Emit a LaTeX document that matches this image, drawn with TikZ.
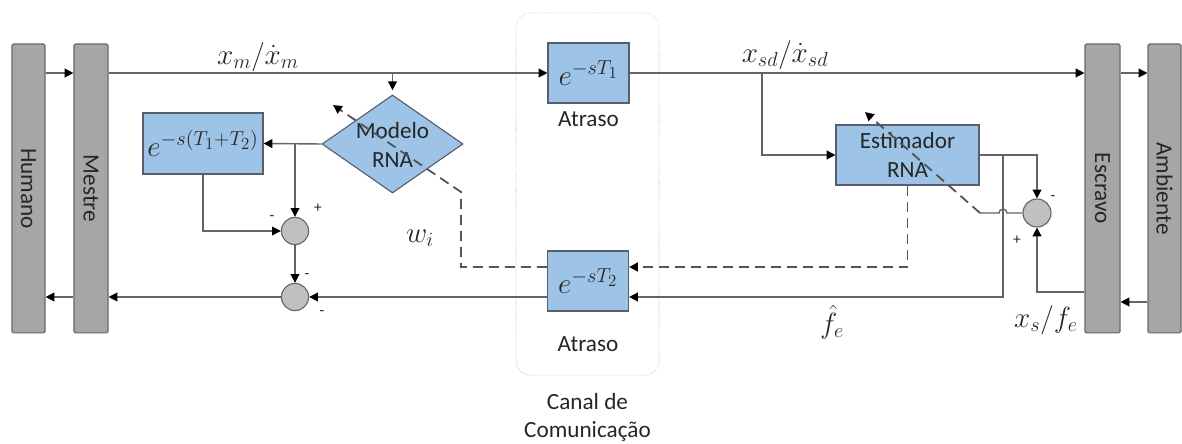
\documentclass[tikz,border=0pt]{standalone}
\usepackage{fontspec}
\setmainfont{Carlito}
\usetikzlibrary{shapes.geometric,arrows.meta,positioning,calc}
\definecolor{tcbar}{RGB}{166,166,166}
\definecolor{tcbarline}{RGB}{105,105,105}
\definecolor{tcblock}{RGB}{157,195,230}
\definecolor{tcblockline}{RGB}{85,95,110}
\definecolor{tcline}{RGB}{100,100,100}
\definecolor{tcsum}{RGB}{192,192,192}
\definecolor{tcdot}{RGB}{165,165,165}

\begin{document}
\begin{tikzpicture}[
			x=0.025cm, y=-0.025cm,
			every node/.style={font=\fontsize{16.5}{20}\selectfont, text=black!85},
			bar/.style={rectangle, draw=tcbarline, thick, fill=tcbar, minimum height=7.22cm, inner sep=0pt, rounded corners=1pt},
			block/.style={rectangle, draw=tcblockline, thick, fill=tcblock, minimum width=2.025cm, minimum height=1.5cm, inner sep=0pt, align=center},
			model/.style={diamond, draw=tcblockline, thick, fill=tcblock, minimum width=3.525cm, minimum height=2.45cm, inner sep=0pt},
			sumnode/.style={circle, draw=tcline, thick, fill=tcsum, minimum size=0.68cm, inner sep=0pt},
			canalbox/.style={rectangle, draw=tcdot, densely dotted, rounded corners=0.35cm, minimum width=3.575cm, minimum height=9.05cm},
			sign/.style={font=\fontsize{11}{12}\selectfont, inner sep=0pt},
			blockmath/.style={font=\huge},
			mathlbl/.style={font=\huge, inner sep=0pt},
			arrow/.style={-{Triangle[length=2.2mm, width=2.2mm, color=black]}, line width=1pt, color=tcline},
			line/.style={line width=1pt, color=tcline},
			dasharrow/.style={-{Triangle[length=2.2mm, width=2.2mm, color=black]}, line width=1.3pt, color=tcline!85!black, dash pattern=on 0.25cm off 0.15cm}
		]
			\useasboundingbox (0,0) rectangle (1182,444);

			% channel
			\node[canalbox] (canal) at (587.5,194) {};
			\node[align=center, inner sep=1pt, below=0.41cm of canal] (canalTxt) {Canal de\\Comunicação};

			% side bars
			\node[bar, minimum width=0.825cm] (humano) at (28.5,188.5) {\rotatebox{-90}{Humano}};
			\node[bar, minimum width=0.85cm] (mestre) at (91,188.5) {\rotatebox{-90}{Mestre}};
			\node[bar, minimum width=0.875cm] (escravo) at (1102.5,188.5) {\rotatebox{-90}{Escravo}};
			\node[bar, minimum width=0.825cm] (ambiente) at (1164.5,188.5) {\rotatebox{-90}{Ambiente}};

			% delays
			\node[block, blockmath] (t1) at (588.5,73) {$e^{-sT_1}$};
			\node[block, blockmath] (t2) at (588,281) {$e^{-sT_2}$};
			\node[inner sep=1pt, below=0.17cm of t1] (t1lbl) {Atraso};
			\node[inner sep=1pt, below=0.58cm of t2] (t2lbl) {Atraso};

			% master side
			\node[block, blockmath, minimum width=3cm, minimum height=1.525cm] (fb) at (203,143.5) {$e^{-s(T_1+T_2)}$};
			\node[model] (modelo) at (392.5,144) {};
			\node[align=center, inner sep=0pt] (modeloTxt) at (392.5,145) {Modelo\\RNA};
			\node[sumnode] (sumA) at (295,231) {};
			\node[sumnode] (sumB) at (295,297) {};

			% slave side
			\node[block, minimum width=3.575cm] (est) at (907.5,155) {Estimador\\RNA};
			\node[sumnode, minimum size=0.7cm] (sumC) at (1037,213) {};

			% helper points
			\coordinate (yTop) at (0,73);
			\coordinate (yW) at (0,267);
			\coordinate (yAmb) at (0,302);
			\coordinate (yXs) at (0,292);
			\coordinate (br) at (762,73);
			\coordinate (br2) at (1003,155);
			\coordinate (knee) at (461,192);
			\coordinate (errTurn) at (980,213);
			\coordinate (adaptA) at (333,105);
			\coordinate (adaptB) at (865,112);

			% forward path
			\draw[arrow] (humano.east |- yTop) -- (mestre.west |- yTop);
			\draw[arrow] (mestre.east |- t1) -- (t1.west);
			\draw[arrow] (modelo.north |- t1) -- ([yshift=3pt]modelo.north);
			\draw[arrow] (t1.east) -- (escravo.west |- t1);
			\draw[arrow] (escravo.east |- yTop) -- (ambiente.west |- yTop);
			\draw[arrow] (br) |- (est.west);

			% slave feedback
			\draw[arrow] (ambiente.west |- yAmb) -- (escravo.east |- yAmb);
			\draw[arrow] (escravo.west |- yXs) -| (sumC.south);
			\draw[arrow] (est.east) -| (sumC.north);
			\draw[arrow] (br2) |- (t2.east |- sumB);
			\draw[line] (sumC.west) -- ($(br2 |- sumC)+(4,0)$) arc[start angle=0, end angle=180, radius=0.1cm] -- (errTurn);
			\draw[dasharrow] (errTurn) -- (adaptB);
			\draw[dasharrow] (est.south) |- (t2.east |- yW);

			% master feedback
			\draw[dasharrow] (t2.west |- yW) -| (knee) -- (adaptA);
			\draw[arrow] (t2.west |- sumB) -- (sumB.east);
			\draw[arrow] (sumB.west) -- (mestre.east |- sumB);
			\draw[arrow] (mestre.west |- sumB) -- (humano.east |- sumB);
			\draw[arrow] (modelo.west) -- (fb.east);
			\draw[arrow] (sumA |- modelo.west) -- (sumA.north);
			\draw[arrow] (fb.south) |- (sumA.west);
			\draw[arrow] (sumA.south) -- (sumB.north);

			% signs
			\node[sign] (sA1) at (272,218) {-};
			\node[sign] (sA2) at (318,208) {+};
			\node[sign] (sB1) at (307,276) {-};
			\node[sign] (sB2) at (322,313) {-};
			\node[sign] (sC1) at (1053,198) {-};
			\node[sign] (sC2) at (1017,240) {+};

			% signal labels
			\node[mathlbl] (xm) at (258,57) {$x_m/\dot{x}_m$};
			\node[mathlbl] (xsd) at (785,55) {$x_{sd}/\dot{x}_{sd}$};
			\node[mathlbl] (wi) at (420,238) {$w_i$};
			\node[mathlbl] (fe) at (832,322) {$\hat{f}_e$};
			\node[mathlbl] (xs) at (1046,320) {$x_s/f_e$};
		\end{tikzpicture}
\end{document}
